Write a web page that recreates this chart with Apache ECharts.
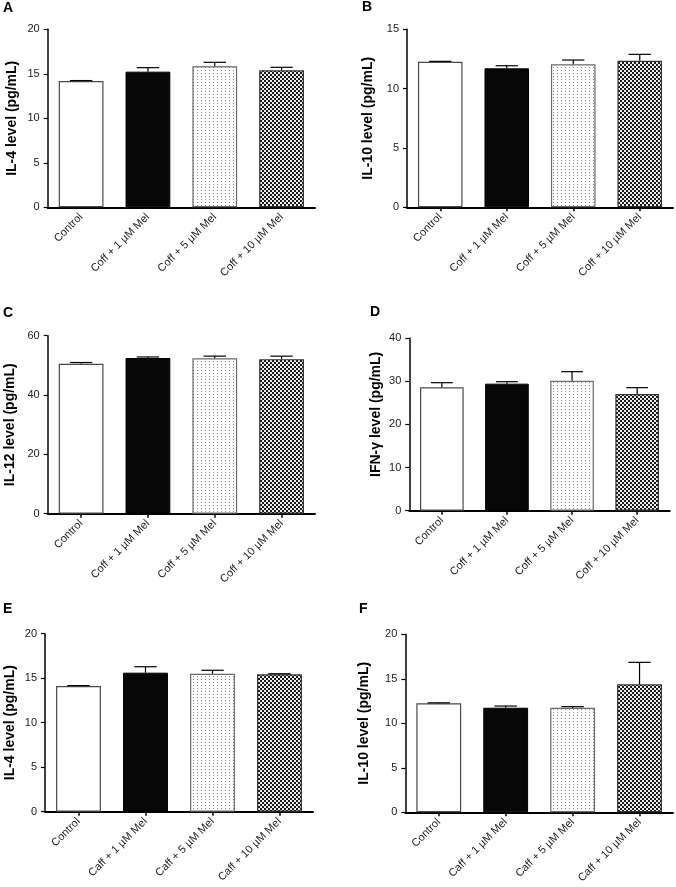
<!DOCTYPE html>
<html>
<head>
<meta charset="utf-8">
<script src="https://cdn.jsdelivr.net/npm/echarts@6/dist/echarts.min.js"></script>
<style>
html,body{margin:0;padding:0;background:#fff;}
#chart{width:676px;height:887px;}
</style>
</head>
<body>
<div id="chart"></div>
<script>
// ---- data ----
const categoriesCoff = ['Control', 'Coff + 1 µM Mel', 'Coff + 5 µM Mel', 'Coff + 10 µM Mel'];
const categoriesCaff = ['Control', 'Caff + 1 µM Mel', 'Caff + 5 µM Mel', 'Caff + 10 µM Mel'];

const panelLetters = ['A', 'B', 'C', 'D', 'E', 'F'];
const yTitles = ['IL-4 level (pg/mL)', 'IL-10 level (pg/mL)', 'IL-12 level (pg/mL)', 'IFN-γ level (pg/mL)', 'IL-4 level (pg/mL)', 'IL-10 level (pg/mL)'];
const yMax = [20, 15, 60, 40, 20, 20];
const yStep = [5, 5, 20, 10, 5, 5];

const meanA = [14.19, 15.24, 15.84, 15.39];
const semA  = [0.05, 0.45, 0.45, 0.34];
const meanB = [12.27, 11.71, 12.05, 12.35];
const semB  = [0.03, 0.22, 0.36, 0.54];
const meanC = [50.56, 52.48, 52.36, 52.10];
const semC  = [0.40, 0.35, 0.75, 1.00];
const meanD = [28.58, 29.42, 30.11, 27.03];
const semD  = [1.07, 0.46, 2.09, 1.47];
const meanE = [14.12, 15.62, 15.50, 15.43];
const semE  = [0.05, 0.67, 0.39, 0.07];
const meanF = [12.25, 11.75, 11.75, 14.38];
const semF  = [0.05, 0.19, 0.12, 2.47];

const means = [meanA, meanB, meanC, meanD, meanE, meanF];
const sems = [semA, semB, semC, semD, semE, semF];
const cats = [categoriesCoff, categoriesCoff, categoriesCoff, categoriesCoff, categoriesCaff, categoriesCaff];

// ---- layout / styles ----
const grids = [
  {left: 47.7, top: 29.3, width: 267.3, height: 178},
  {left: 407, top: 29.3, width: 266, height: 178},
  {left: 47.7, top: 335.7, width: 267.3, height: 178},
  {left: 409.3, top: 338, width: 260.4, height: 172.7},
  {left: 45, top: 633.7, width: 268, height: 178},
  {left: 405.3, top: 634.3, width: 267.7, height: 178}
];
const nameGaps = [29, 32, 31, 26, 28, 34];
const namePads = [[0, 0, 0, 0], [0, 0, 0, 0], [0, 0, 0, 0], [0, 0, 0, 20], [0, 0, 0, 0], [0, 0, 0, 0]];
const letterPos = [[3, 1], [362, 0], [3, 306], [370, 305], [3, 602], [359, 602]];
const showXTicks = [false, true, true, true, true, true];

function makeDots() {
  const c = document.createElement('canvas');
  c.width = 4; c.height = 3;
  const g = c.getContext('2d');
  g.fillStyle = '#ffffff'; g.fillRect(0, 0, 4, 3);
  g.fillStyle = '#8a8a8a'; g.fillRect(1, 1, 1, 1);
  return c;
}
function makeChecker() {
  const c = document.createElement('canvas');
  c.width = 4; c.height = 4;
  const g = c.getContext('2d');
  g.fillStyle = '#eeeeee'; g.fillRect(0, 0, 4, 4);
  g.fillStyle = '#1a1a1a'; g.fillRect(0, 0, 2, 2); g.fillRect(2, 2, 2, 2);
  return c;
}
const dotPattern = {image: makeDots(), repeat: 'repeat'};
const checkPattern = {image: makeChecker(), repeat: 'repeat'};
const barStyles = [
  {color: '#ffffff', borderColor: '#4a4a4a', borderWidth: 1.2},
  {color: '#070707', borderColor: '#000000', borderWidth: 1},
  {color: dotPattern, borderColor: '#6a6a6a', borderWidth: 1.2},
  {color: checkPattern, borderColor: '#333333', borderWidth: 1.2}
];

const FONT = '"Liberation Sans", Arial, Helvetica, sans-serif';

const option = {
  animation: false,
  backgroundColor: '#ffffff',
  grid: grids.map(g => Object.assign({containLabel: false}, g)),
  xAxis: grids.map((g, i) => ({
    type: 'category',
    gridIndex: i,
    data: cats[i],
    axisLine: {lineStyle: {color: '#000', width: 2}},
    axisTick: {show: showXTicks[i], alignWithLabel: true, length: 4, lineStyle: {color: '#000', width: 1.5}},
    axisLabel: {rotate: 45, fontSize: 11, color: '#222', fontFamily: FONT, margin: 8, interval: 0}
  })),
  yAxis: grids.map((g, i) => ({
    type: 'value',
    gridIndex: i,
    min: 0,
    max: yMax[i],
    interval: yStep[i],
    name: yTitles[i],
    nameLocation: 'middle',
    nameGap: nameGaps[i],
    nameTextStyle: {fontSize: 14, fontWeight: 'bold', color: '#000', fontFamily: FONT, padding: namePads[i]},
    axisLine: {show: true, lineStyle: {color: '#000', width: 1.5}},
    axisTick: {show: true, length: 4, lineStyle: {color: '#000', width: 1.2}},
    axisLabel: {fontSize: 11, color: '#222', fontFamily: FONT, margin: 8},
    splitLine: {show: false}
  })),
  graphic: panelLetters.map((l, i) => ({
    type: 'text',
    left: letterPos[i][0],
    top: letterPos[i][1],
    style: {text: l, font: 'bold 14px ' + FONT, fill: '#000'}
  })),
  series: []
};

for (let i = 0; i < 6; i++) {
  option.series.push({
    type: 'bar',
    xAxisIndex: i,
    yAxisIndex: i,
    barCategoryGap: '33%',
    z: 2,
    data: means[i].map((v, k) => ({value: v, itemStyle: barStyles[k]}))
  });
  option.series.push({
    type: 'custom',
    xAxisIndex: i,
    yAxisIndex: i,
    z: 3,
    data: means[i].map((v, k) => [k, v, sems[i][k]]),
    renderItem: function (params, api) {
      const k = api.value(0);
      const m = api.value(1);
      const s = api.value(2);
      const base = api.coord([k, m]);
      const top = api.coord([k, m + s]);
      const bw = api.size([1, 0])[0] * 0.67;
      const half = bw / 4;
      const st = {stroke: '#000', lineWidth: 1.2};
      return {
        type: 'group',
        children: [
          {type: 'line', shape: {x1: base[0], y1: base[1], x2: top[0], y2: top[1]}, style: st},
          {type: 'line', shape: {x1: top[0] - half, y1: top[1], x2: top[0] + half, y2: top[1]}, style: st}
        ]
      };
    }
  });
}

const chart = echarts.init(document.getElementById('chart'), null, {renderer: 'canvas'});
chart.setOption(option);
</script>
</body>
</html>
